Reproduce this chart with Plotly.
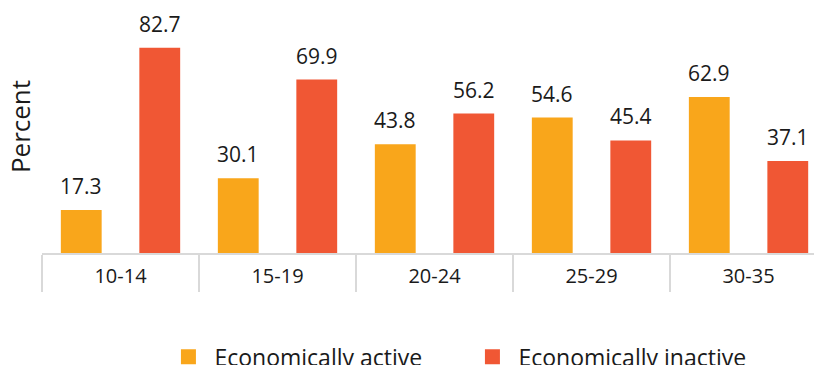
import plotly.graph_objects as go

# Share of young people by economic activity status, per age group
age_groups = ["10-14", "15-19", "20-24", "25-29", "30-35"]
active = [17.3, 30.1, 43.8, 54.6, 62.9]
inactive = [82.7, 69.9, 56.2, 45.4, 37.1]
series_names = ["Economically active", "Economically inactive"]
series_colors = ["#F9A61B", "#F05734"]

FONT = "Open Sans"
TEXT = "#1a1a1a"
GRID = "#d9d9d9"

fig = go.Figure()

for name, values, color in zip(series_names, [active, inactive], series_colors):
    fig.add_trace(go.Bar(
        x=age_groups, y=values, name=name,
        marker=dict(color=color, line=dict(width=0)),
        showlegend=False,
    ))
    # square swatch used only for the legend entry
    fig.add_trace(go.Scatter(
        x=[None], y=[None], mode="markers", name=name,
        marker=dict(symbol="square", size=15, color=color),
        showlegend=True,
    ))

# value labels above each bar
annotations = []
for values, shift in [(active, -39.5), (inactive, 39.5)]:
    for cat, v in zip(age_groups, values):
        annotations.append(dict(
            x=cat, y=v, xref="x", yref="y", text=f"{v:.1f}",
            showarrow=False, xshift=shift, yanchor="bottom", yshift=8,
            font=dict(family=FONT, size=21, color=TEXT),
        ))

fig.update_layout(
    width=814, height=365,
    margin=dict(l=42, r=0, t=0, b=112, autoexpand=False),
    paper_bgcolor="white", plot_bgcolor="white",
    barmode="group", bargap=0.0, bargroupgap=0.48,
    font=dict(family=FONT, color=TEXT),
    annotations=annotations,
    legend=dict(
        orientation="h", x=0.156, xanchor="left", y=-0.41, yanchor="middle",
        font=dict(family=FONT, size=23, color=TEXT),
        itemwidth=42,
        entrywidth=247, entrywidthmode="pixels",
        bgcolor="rgba(0,0,0,0)",
    ),
    xaxis=dict(
        type="category", range=[-0.5, 4.417],
        showline=True, linecolor=GRID, linewidth=1.5,
        ticks="outside", tickson="boundaries", ticklen=37,
        tickcolor=GRID, tickwidth=1.5,
        ticklabelstandoff=4,
        tickfont=dict(family=FONT, size=20, color=TEXT),
        showgrid=False, zeroline=False,
    ),
    yaxis=dict(
        range=[0, 102], showticklabels=False, showgrid=False,
        zeroline=False, showline=False, ticks="",
        title=dict(text="Percent", font=dict(family=FONT, size=26, color=TEXT),
                   standoff=2),
    ),
)

fig.write_html("out.html")
